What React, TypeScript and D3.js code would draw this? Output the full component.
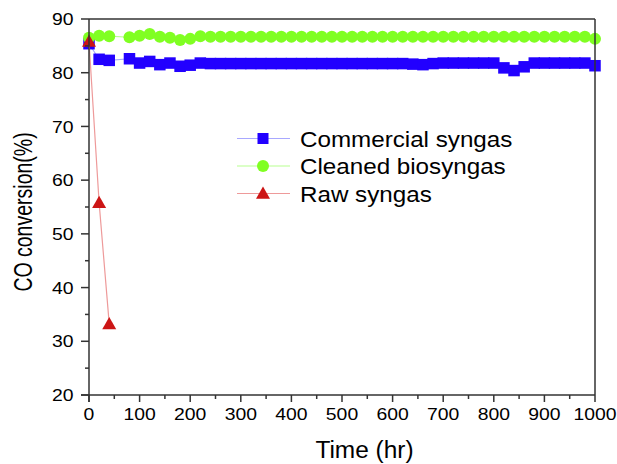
import React from "react";
import * as d3 from "d3";

const times = [0, 20, 40, 80, 100, 120, 140, 160, 180, 200, 220, 240, 260, 280, 300, 320, 340, 360, 380, 400, 420, 440, 460, 480, 500, 520, 540, 560, 580, 600, 620, 640, 660, 680, 700, 720, 740, 760, 780, 800, 820, 840, 860, 880, 900, 920, 940, 960, 980, 1000];
const commercial = [85.4, 82.5, 82.3, 82.6, 81.8, 82.1, 81.5, 81.8, 81.2, 81.4, 81.8, 81.7, 81.7, 81.7, 81.7, 81.7, 81.7, 81.7, 81.7, 81.7, 81.7, 81.7, 81.7, 81.7, 81.7, 81.7, 81.7, 81.7, 81.7, 81.7, 81.7, 81.6, 81.5, 81.7, 81.8, 81.8, 81.8, 81.8, 81.8, 81.8, 80.9, 80.4, 81.1, 81.8, 81.8, 81.8, 81.8, 81.8, 81.8, 81.3];
const cleaned = [86.5, 86.9, 86.8, 86.6, 86.9, 87.2, 86.7, 86.5, 86.1, 86.3, 86.8, 86.7, 86.7, 86.7, 86.7, 86.7, 86.7, 86.7, 86.7, 86.7, 86.7, 86.7, 86.7, 86.7, 86.7, 86.7, 86.7, 86.7, 86.7, 86.7, 86.7, 86.7, 86.7, 86.7, 86.7, 86.7, 86.7, 86.7, 86.7, 86.7, 86.7, 86.7, 86.7, 86.7, 86.7, 86.7, 86.7, 86.7, 86.7, 86.3];
const rawTimes = [0, 20, 40];
const raw = [85.8, 55.8, 33.2];
const xTicks = [0, 100, 200, 300, 400, 500, 600, 700, 800, 900, 1000];
const yTicks = [20, 30, 40, 50, 60, 70, 80, 90];
const legendLabels = ["Commercial syngas", "Cleaned biosyngas", "Raw syngas"];

const FONT = "'Liberation Sans', Arial, sans-serif";

export default function App() {
  const left = 89, right = 595, top = 19, bottom = 395;
  const x = d3.scaleLinear().domain([0, 1000]).range([left, right]);
  const y = d3.scaleLinear().domain([20, 90]).range([bottom, top]);
  const line = d3.line<number>();

  const blueLine = line(times.map((t, i) => [x(t), y(commercial[i])] as [number, number]));
  const greenLine = line(times.map((t, i) => [x(t), y(cleaned[i])] as [number, number]));
  const redLine = line(rawTimes.map((t, i) => [x(t), y(raw[i])] as [number, number]));

  const minorX = d3.range(50, 1000, 100);
  const minorY = d3.range(25, 90, 10);

  const tri = (cx: number, cy: number, s = 7) =>
    `M${cx},${cy - s} L${cx + s},${cy + s * 0.75} L${cx - s},${cy + s * 0.75} Z`;

  const blue = "#2200ff";
  const green = "#80ff22";
  const red = "#cc1515";
  const axisColor = "#333";
  const sq = 11.5;
  const cr = 6;

  const legY = [138.5, 166, 193.5];
  const legX0 = 237, legX1 = 290, legM = 263;

  return (
    <svg width={617} height={464} style={{ position: "absolute", left: 0, top: 0, background: "#fff" }} fontFamily={FONT}>
      <rect x={0} y={0} width={617} height={464} fill="#fff" />
      {/* series lines */}
      <path d={blueLine || ""} fill="none" stroke="#a8a8ff" strokeWidth={1.2} />
      <path d={greenLine || ""} fill="none" stroke="#b8ff90" strokeWidth={1.2} />
      {times.map((t, i) => (
        <rect key={"b" + i} x={x(t) - sq / 2} y={y(commercial[i]) - sq / 2} width={sq} height={sq} fill={blue} />
      ))}
      {times.map((t, i) => (
        <circle key={"g" + i} cx={x(t)} cy={y(cleaned[i])} r={cr} fill={green} />
      ))}
      <path d={redLine || ""} fill="none" stroke="#ee9a9a" strokeWidth={1.2} />
      {rawTimes.map((t, i) => (
        <path key={"r" + i} d={tri(x(t), y(raw[i]))} fill={red} />
      ))}

      {/* frame */}
      <line x1={left} x2={right} y1={top} y2={top} stroke={axisColor} strokeWidth={1.5} />
      <line x1={right} x2={right} y1={top} y2={bottom} stroke={axisColor} strokeWidth={1.5} />
      <line x1={left} x2={left} y1={top} y2={bottom + 7} stroke={axisColor} strokeWidth={1.5} />
      <line x1={left - 8} x2={right} y1={bottom} y2={bottom} stroke={axisColor} strokeWidth={1.5} />

      {/* x ticks */}
      {xTicks.map((t) => (
        <g key={"xt" + t}>
          <line x1={x(t)} x2={x(t)} y1={bottom} y2={bottom + 7} stroke={axisColor} strokeWidth={1.5} />
          <text transform={`translate(${x(t)},420) scale(1.14,1)`} textAnchor="middle" fontSize={17} fill="#000">{t}</text>
        </g>
      ))}
      {minorX.map((t) => (
        <line key={"xm" + t} x1={x(t)} x2={x(t)} y1={bottom} y2={bottom + 4} stroke={axisColor} strokeWidth={1.5} />
      ))}
      {/* y ticks */}
      {yTicks.map((v) => (
        <g key={"yt" + v}>
          <line x1={left - 8} x2={left} y1={y(v)} y2={y(v)} stroke={axisColor} strokeWidth={1.5} />
          <text transform={`translate(73.5,${y(v) + 6.2}) scale(1.14,1)`} textAnchor="end" fontSize={17} fill="#000">{v}</text>
        </g>
      ))}
      {minorY.map((v) => (
        <line key={"ym" + v} x1={left - 4} x2={left} y1={y(v)} y2={y(v)} stroke={axisColor} strokeWidth={1.5} />
      ))}

      {/* axis titles */}
      <text transform="translate(364.5,458) scale(1.04,1)" textAnchor="middle" fontSize={23.5} fill="#000">Time (hr)</text>
      <text transform="translate(32,212) rotate(-90) scale(1,1.3)" textAnchor="middle" fontSize={19.5} fill="#000">CO conversion(%)</text>

      {/* legend */}
      <line x1={legX0} x2={legX1} y1={legY[0]} y2={legY[0]} stroke="#a8a8ff" strokeWidth={1.2} />
      <rect x={legM - 5.5} y={legY[0] - 5.5} width={11} height={11} fill={blue} />
      <line x1={legX0} x2={legX1} y1={legY[1]} y2={legY[1]} stroke="#b8ff90" strokeWidth={1.2} />
      <circle cx={legM} cy={legY[1]} r={cr} fill={green} />
      <line x1={legX0} x2={legX1} y1={legY[2]} y2={legY[2]} stroke="#ee9a9a" strokeWidth={1.2} />
      <path d={tri(legM, legY[2])} fill={red} />
      {legendLabels.map((l, i) => (
        <text key={l} transform={`translate(300,${legY[i] + 8.2}) scale(1.1,1)`} fontSize={22} fill="#000">{l}</text>
      ))}
    </svg>
  );
}
